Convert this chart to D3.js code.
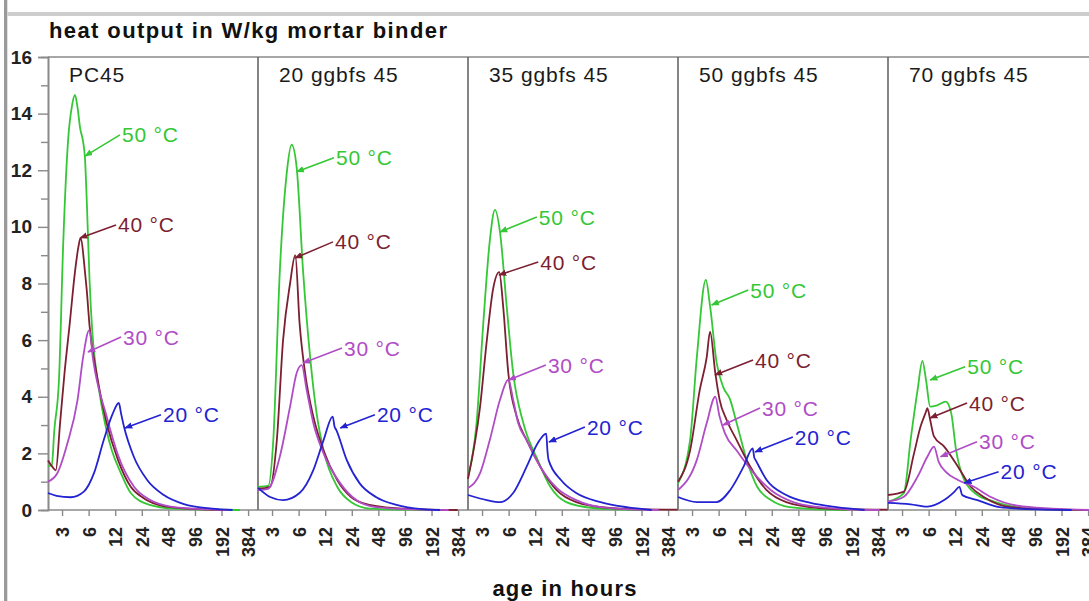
<!DOCTYPE html>
<html>
<head>
<meta charset="utf-8">
<script src="https://cdn.jsdelivr.net/npm/d3@7"></script>
<style>
  html, body { margin: 0; padding: 0; background: #fff; }
  svg { display: block; font-family: "Liberation Sans", Arial, Helvetica, sans-serif; }
</style>
</head>
<body>
<svg id="chart" width="1089" height="601"></svg>
<script>
// ---------------- DATA ----------------
const panelNames = ["PC45", "20 ggbfs 45", "35 ggbfs 45", "50 ggbfs 45", "70 ggbfs 45"];
const tempLabels = ["50 °C", "40 °C", "30 °C", "20 °C"];
const xTickValues = [3, 6, 12, 24, 48, 96, 192, 384];
const yTickValues = [0, 2, 4, 6, 8, 10, 12, 14, 16];
const chartTitle = "heat output in W/kg mortar binder";
const xAxisTitle = "age in hours";

// [age in hours, heat output W/kg]
const pc45_50 = [[2.08,1.55],[2.3,1.6],[2.45,2.8],[2.77,4.6],[3.1,9.5],[3.52,13.1],[3.9,14.3],[4.2,14.66],[4.5,14.2],[4.8,13.5],[5.2,13.0],[5.46,12.4],[5.75,10.7],[6.15,8.1],[6.6,6.3],[7.4,4.8],[8.1,4.0],[9.6,2.8],[11,2.1],[13.7,1.35],[18,0.6],[29.5,0.18],[54,0.05],[150,0.01],[310,0]];
const pc45_40 = [[2.08,1.75],[2.3,1.55],[2.55,1.4],[2.85,3.07],[3.2,4.84],[3.67,6.6],[4.2,8.4],[4.6,9.3],[4.85,9.6],[5.5,8.3],[5.7,7.8],[6.15,6.5],[7.4,4.8],[9.6,3.07],[12.9,1.77],[18,0.82],[25,0.42],[42,0.14],[100,0.03],[200,0]];
const pc45_30 = [[2.08,1.0],[2.65,1.3],[3.45,2.36],[4.5,3.9],[5.2,5.4],[6.1,6.35],[6.75,5.3],[9.6,3.3],[12.9,1.94],[19.6,0.82],[30,0.35],[51,0.12],[120,0.03],[230,0]];
const pc45_20 = [[2.08,0.6],[2.6,0.5],[3.76,0.45],[5.3,0.65],[6.9,1.3],[8.9,2.47],[11.1,3.36],[13.2,3.78],[14,3.4],[15.1,2.94],[19.5,1.88],[27.6,1.06],[42.6,0.53],[72,0.21],[150,0.05],[256,0]];

const g20_50 = [[2.08,0.82],[2.72,0.85],[3.1,2.47],[3.67,8.4],[4.4,11.9],[5.0,12.9],[5.7,12.1],[6.75,8.4],[8.1,5.4],[9.6,3.4],[11.5,2.1],[16.4,0.82],[23.5,0.28],[38,0.05],[100,0.01],[280,0]];
const g20_40 = [[2.08,0.75],[2.85,0.82],[3.4,2.47],[4.0,6.0],[4.8,8.0],[5.5,9.0],[6.15,6.6],[7.1,4.84],[8.8,3.3],[11.5,2.1],[16.4,1.06],[23.5,0.46],[38,0.18],[100,0.04],[380,0]];
const g20_30 = [[2.08,0.7],[2.7,0.75],[3.67,1.88],[4.8,3.65],[5.7,4.84],[6.5,5.12],[7.4,4.24],[8.8,3.07],[11.5,2.0],[17.8,0.94],[27,0.35],[45,0.1],[120,0.02],[300,0]];
const g20_20 = [[2.08,0.78],[2.85,0.46],[4.0,0.35],[6.15,0.6],[8.8,1.41],[11.5,2.47],[14.6,3.3],[15.3,2.95],[16,2.83],[21,1.77],[29.5,0.94],[45,0.46],[77,0.18],[150,0.03],[240,0]];

const g35_50 = [[2.08,1.17],[2.6,3.07],[3.1,6.6],[3.67,9.5],[4.2,10.6],[4.8,9.8],[5.7,7.2],[6.75,4.84],[8.8,3.07],[12.8,1.77],[17.8,0.82],[27,0.28],[54,0.07],[120,0.01],[200,0]];
const g35_40 = [[2.08,1.1],[2.85,3.65],[3.4,6.0],[4.0,7.8],[4.7,8.4],[5.2,7.2],[5.95,4.84],[7.4,3.3],[9.6,2.47],[13.7,1.53],[21,0.7],[35,0.28],[84,0.07],[200,0.02],[497,0.01]];
const g35_30 = [[2.08,0.78],[2.85,1.3],[3.67,2.47],[4.8,3.9],[5.95,4.6],[6.75,3.9],[7.7,3.07],[9.6,2.47],[13.7,1.53],[21,0.78],[35,0.35],[66,0.1],[150,0.02],[300,0]];
const g35_20 = [[2.08,0.53],[3.4,0.35],[4.8,0.28],[6.75,0.6],[9.6,1.53],[12.8,2.36],[16,2.7],[16.5,2.1],[17,1.77],[23.5,1.06],[35,0.6],[66,0.28],[130,0.1],[250,0]];

const g50_50 = [[2.08,0.94],[2.85,2.47],[3.4,5.4],[4.3,8.13],[4.8,7.2],[5.7,5.2],[6.75,4.35],[8.1,3.9],[9.6,3.07],[12.8,1.65],[16.4,0.82],[23.5,0.35],[38,0.1],[100,0.01],[170,0]];
const g50_40 = [[2.08,1.0],[2.85,2.1],[3.67,4.24],[4.4,5.4],[4.8,6.3],[5.5,4.84],[6.15,3.9],[7.4,3.18],[9.6,2.47],[13.7,1.53],[21,0.7],[35,0.28],[84,0.07],[200,0.02],[497,0.01]];
const g50_30 = [[2.08,0.7],[3.4,1.77],[4.4,3.07],[5.5,4.0],[6.15,3.3],[7.1,2.7],[9.6,2.1],[15,1.3],[23.5,0.7],[42,0.28],[84,0.1],[200,0.02],[400,0]];
const g50_20 = [[2.08,0.46],[3.4,0.28],[5.7,0.28],[8.1,0.7],[11.5,1.53],[14.6,2.18],[15.2,1.85],[15.7,1.77],[21,1.06],[35,0.53],[66,0.25],[130,0.1],[270,0]];

const g70_50 = [[2.08,0.3],[3.15,0.6],[3.75,2.47],[4.5,4.24],[5.1,5.27],[5.6,4.6],[6.25,3.65],[7.5,3.7],[9.4,3.83],[10.8,3.43],[12.3,2.1],[15.2,1.06],[21.4,0.53],[33,0.3],[61,0.1],[150,0.02],[300,0]];
const g70_40 = [[2.08,0.53],[3.15,0.65],[4.1,2.0],[4.85,2.94],[5.6,3.47],[5.8,3.6],[6.25,3.18],[6.9,2.6],[9.0,2.24],[12.9,1.53],[18,0.82],[25,0.47],[51,0.1],[150,0.02],[400,0]];
const g70_30 = [[2.08,0.3],[3.15,0.47],[4.5,1.18],[5.8,1.88],[6.9,2.24],[7.8,1.7],[9.4,1.35],[12.9,1.06],[19.6,0.82],[30,0.47],[61,0.15],[150,0.05],[400,0]];
const g70_20 = [[2.08,0.25],[3.75,0.2],[5.8,0.12],[9.0,0.35],[11.8,0.65],[13.4,0.82],[14.4,0.53],[21.4,0.35],[38,0.1],[100,0.02],[250,0]];

// curve label annotations in data units: [label hours, label value, arrow hours, arrow value]
const pc45_notes = [[14.3,13.25,5.46,12.5],[12.9,10.07,4.8,9.61],[14.7,6.11,5.9,5.58],[41.7,3.36,15.5,2.9]];
const g20_notes  = [[15.9,12.44,5.7,11.95],[15.5,9.47,5.46,8.9],[19.6,5.72,6.72,5.19],[46.2,3.36,17.8,2.9]];
const g35_notes  = [[13.2,10.35,4.8,9.82],[13.7,8.76,4.67,8.3],[16.7,5.12,6.0,4.59],[46.2,2.93,17.2,2.4]];
const g50_notes  = [[13.7,7.77,5.0,7.24],[15.5,5.3,5.46,4.77],[18.6,3.6,6.72,3.0],[43.8,2.58,15.5,2.05]];
const g70_notes  = [[16.4,5.06,6.25,4.59],[17.2,3.78,6.25,3.25],[22.3,2.41,8.2,1.88],[39.2,1.35,15.2,0.95]];

const panelSeries = [
  [pc45_50, pc45_40, pc45_30, pc45_20],
  [g20_50, g20_40, g20_30, g20_20],
  [g35_50, g35_40, g35_30, g35_20],
  [g50_50, g50_40, g50_30, g50_20],
  [g70_50, g70_40, g70_30, g70_20]
];
const panelNotes = [pc45_notes, g20_notes, g35_notes, g50_notes, g70_notes];

// ---------------- STYLE / LAYOUT ----------------
const tempColors = ["#35c735", "#7c1f31", "#b04cc6", "#2323d2"];
const W = 1089, H = 601;
const plotTop = 57, plotBottom = 510, firstLeft = 48, panelW = 210;

const svg = d3.select("#chart");
svg.append("rect").attr("width", W).attr("height", H).attr("fill", "#fff");

// window-like frame pieces
svg.append("rect").attr("x", 4).attr("y", 0).attr("width", 3.3).attr("height", H).attr("fill", "#9a9a9a");
svg.append("rect").attr("x", 7.3).attr("y", 12).attr("width", W).attr("height", 4).attr("fill", "#cdcdcd");

const y = d3.scaleLinear().domain([0, 16]).range([plotBottom, plotTop]);

// defs: arrow markers
const defs = svg.append("defs");
tempColors.forEach((c, i) => {
  defs.append("marker")
    .attr("id", "arr" + i)
    .attr("viewBox", "0 0 10 10")
    .attr("refX", 9).attr("refY", 5)
    .attr("markerWidth", 5).attr("markerHeight", 5)
    .attr("orient", "auto")
    .append("path").attr("d", "M0,1L10,5L0,9Z").attr("fill", c);
});

// title
svg.append("text")
  .attr("x", 49).attr("y", 38)
  .attr("font-size", 22).attr("font-weight", "bold")
  .attr("fill", "#111")
  .attr("textLength", 398).attr("lengthAdjust", "spacing")
  .text(chartTitle);

// top frame line
svg.append("line").attr("x1", firstLeft).attr("x2", W).attr("y1", plotTop).attr("y2", plotTop)
  .attr("stroke", "#8a8a8a").attr("stroke-width", 1.6);

// y axis: major ticks w/ labels, minor ticks
const yMajor = svg.append("g").attr("transform", `translate(${firstLeft},0)`)
  .call(d3.axisLeft(y).tickValues(yTickValues).tickSize(10).tickPadding(6).tickFormat(d3.format("d")));
const yMinor = svg.append("g").attr("transform", `translate(${firstLeft},0)`)
  .call(d3.axisLeft(y).tickValues(d3.range(1, 16, 2)).tickSize(7).tickFormat(""));
[yMajor, yMinor].forEach(g => {
  g.select(".domain").attr("stroke", "#8a8a8a").attr("stroke-width", 1.6);
  g.selectAll(".tick line").attr("stroke", "#8a8a8a").attr("stroke-width", 1.4);
});
yMajor.selectAll(".tick text")
  .attr("font-size", 19).attr("font-weight", "bold").attr("fill", "#222")
  .attr("font-family", "'Liberation Sans', Arial, sans-serif");

const line = d3.line().curve(d3.curveMonotoneX);

panelNames.forEach((name, pi) => {
  const left = firstLeft + pi * panelW;
  const x = d3.scaleLog().domain([2.08, 497]).range([left, left + panelW]);
  const g = svg.append("g");

  // left border of panel
  if (pi > 0) {
    g.append("line").attr("x1", left).attr("x2", left).attr("y1", plotTop).attr("y2", plotBottom)
      .attr("stroke", "#666").attr("stroke-width", 1.6);
  }

  // x axis
  const xa = g.append("g").attr("transform", `translate(0,${plotBottom})`)
    .call(d3.axisBottom(x).tickValues(xTickValues).tickSize(6).tickFormat(d3.format("d")));
  xa.select(".domain").attr("stroke", "#8a8a8a").attr("stroke-width", 1.6)
    .attr("d", `M${left},0H${left + panelW}`);
  xa.selectAll(".tick line").attr("stroke", "#8a8a8a").attr("stroke-width", 1.4);
  xa.selectAll(".tick text")
    .attr("transform", "rotate(-90)")
    .attr("x", -17).attr("y", 0).attr("dy", "0.36em")
    .style("text-anchor", "end")
    .attr("font-size", 18).attr("font-weight", "bold").attr("fill", "#222")
    .attr("font-family", "'Liberation Sans', Arial, sans-serif");

  // panel title
  g.append("text").attr("x", left + 21).attr("y", 82)
    .attr("font-size", 21).attr("fill", "#1a1a1a")
    .attr("letter-spacing", 0.9)
    .text(name);

  // curves
  panelSeries[pi].forEach((series, si) => {
    g.append("path")
      .attr("d", line(series.map(d => [x(d[0]), y(d[1])])))
      .attr("fill", "none")
      .attr("stroke", tempColors[si])
      .attr("stroke-width", 1.8)
      .attr("stroke-linejoin", "round");
  });

  // annotations
  panelNotes[pi].forEach((n, si) => {
    const tx = x(n[0]), ty = y(n[1]);
    g.append("line")
      .attr("x1", tx - 2).attr("y1", ty)
      .attr("x2", x(n[2])).attr("y2", y(n[3]))
      .attr("stroke", tempColors[si]).attr("stroke-width", 1.6)
      .attr("marker-end", `url(#arr${si})`);
    g.append("text")
      .attr("x", tx).attr("y", ty).attr("dy", "0.36em")
      .attr("font-size", 21).attr("fill", tempColors[si])
      .attr("letter-spacing", 0.8)
      .text(tempLabels[si]);
  });
});

// x axis title
svg.append("text").attr("x", 565).attr("y", 596)
  .attr("text-anchor", "middle")
  .attr("font-size", 22).attr("font-weight", "bold").attr("fill", "#111")
  .attr("letter-spacing", 1.2)
  .text(xAxisTitle);
</script>
</body>
</html>
